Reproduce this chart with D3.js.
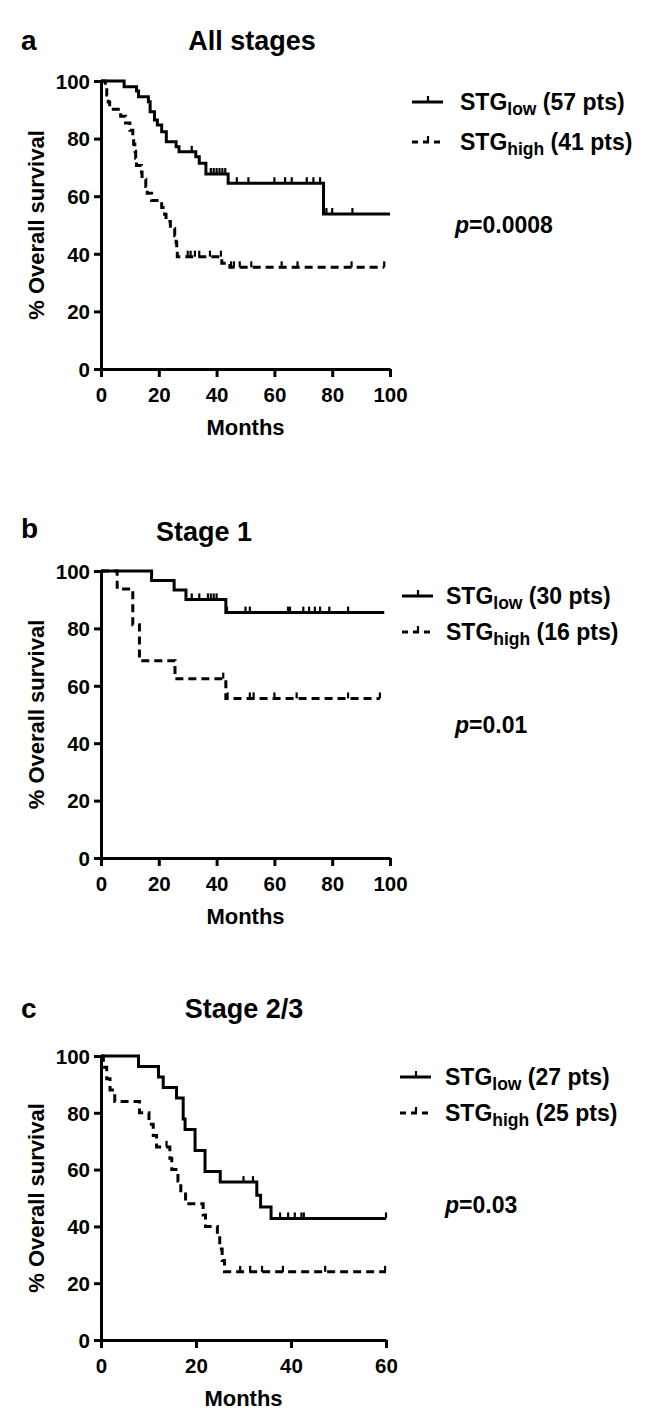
<!DOCTYPE html>
<html><head><meta charset="utf-8">
<script src="https://cdn.jsdelivr.net/npm/d3@7"></script>
<style>
body{margin:0;background:#fff}
svg{display:block}
text{font-family:"Liberation Sans",Arial,Helvetica,sans-serif;font-weight:bold;fill:#000}
</style>
</head><body>
<svg id="chart" width="646" height="1416"></svg>
<script>
// ---------- DATA ----------
const yTicks = [0, 20, 40, 60, 80, 100];
const xTicksAB = [0, 20, 40, 60, 80, 100];
const xTicksC = [0, 20, 40, 60];

// Panel a: All stages
const aLowSteps = [[0,100],[8,98.0],[12.3,96.5],[13,94.5],[16.4,92.8],[17,89.3],[18.5,86.5],[19.5,84.7],[21,82.4],[22.6,78.9],[26,77.2],[27,75.4],[32.8,73.7],[34,71.4],[36.3,67.7],[44,64.5],[77,53.8]];
const aLowCensor = [31.4,38,39,40,41,42,43,47,51,60,63.7,66,71.2,73.5,75.8,78,80,87];
const aLowEnd = 100;
const aHighSteps = [[0,100],[1.5,97.6],[2,95.1],[2.5,92.7],[3,90.2],[6.8,87.8],[8.5,85.4],[10,82.9],[11,80.5],[11.3,78],[11.7,75.6],[12,73.2],[12.3,70.7],[14,68.3],[14.2,65.9],[15.5,63.4],[16,61],[17.5,58.5],[21,56.1],[22,53.7],[22.5,51.2],[24,48.8],[25.5,46.3],[26,43.9],[26.2,41.5],[26.4,39],[41.8,36.7],[44.6,35.3]];
const aHighCensor = [30,31,32.5,34,37.7,41.5,45,46,48,52,62.5,68,86.7,98];
const aHighEnd = 98;

// Panel b: Stage 1
const bLowSteps = [[0,100],[17.5,96.7],[25.3,93.4],[29.4,90.1],[43.2,85.5]];
const bLowCensor = [31.4,34,37,38,39,40,43.6,50,51.5,64.7,65.4,70,72,74,75.8,79,85.5];
const bLowEnd = 98;
const bHighSteps = [[0,100],[5.6,93.75],[11,81.25],[13.3,68.75],[25.6,62.5],[43.2,55.6]];
const bHighCensor = [42.3,43.8,51.5,52.8,60,67.7,85.5,96.5];
const bHighEnd = 96.5;

// Panel c: Stage 2/3
const cLowSteps = [[0,100],[7.9,96.3],[12.1,92.6],[13.1,88.9],[15.9,85.2],[17.3,77.8],[17.7,74.1],[19.8,66.7],[21.9,59.3],[25.1,55.6],[32.8,51],[33.6,46.8],[35.8,42.8]];
const cLowCensor = [30,32,37.7,39.4,40.8,42.2,42.7,60];
const cLowEnd = 60;
const cHighSteps = [[0,100],[0.5,96],[1.2,92],[1.9,88],[2.9,84],[8.1,80],[10.1,76],[11,72],[11.7,68],[14.5,64],[14.9,60],[16.2,56],[16.8,52],[17.8,48],[21.5,44],[22,40],[24.5,36],[25,32],[25.5,28],[26,24]];
const cHighCensor = [13.8,29.3,31.4,33.9,38.3,47.2,59.8];
const cHighEnd = 60;

// ---------- DRAW ----------
const svg = d3.select("#chart");
const DASH = "8,5";

function survAt(steps, t){
  let s = steps[0][1];
  for (const [ti, si] of steps) { if (ti <= t) s = si; }
  return s;
}

function drawCurve(g, x, y, steps, censor, end, dashed){
  const pts = [[steps[0][0], steps[0][1]]];
  for (let i = 1; i < steps.length; i++) {
    pts.push([steps[i][0], steps[i-1][1]]);
    pts.push([steps[i][0], steps[i][1]]);
  }
  pts.push([end, steps[steps.length-1][1]]);
  const line = d3.line().x(d => x(d[0])).y(d => y(d[1]));
  g.append("path").attr("d", line(pts)).attr("fill","none").attr("stroke","#000")
    .attr("stroke-width", 3).attr("stroke-dasharray", dashed ? DASH : null)
    .attr("stroke-linejoin","miter").attr("stroke-linecap","butt");
  g.selectAll(null).data(censor).enter().append("line")
    .attr("x1", d => x(d)).attr("x2", d => x(d))
    .attr("y1", d => y(survAt(steps, d)))
    .attr("y2", d => y(survAt(steps, d)) - 6)
    .attr("stroke","#000").attr("stroke-width", 2.2);
}

function panel(cfg){
  const g = svg.append("g");
  const x = d3.scaleLinear().domain([0, cfg.xMax]).range([cfg.x0, cfg.x1]);
  const y = d3.scaleLinear().domain([0, 100]).range([cfg.yBot, cfg.yTop]);

  const xa = g.append("g").attr("transform", `translate(0,${cfg.yBot})`)
    .call(d3.axisBottom(x).tickValues(cfg.xTicks).tickSize(8).tickSizeOuter(0).tickPadding(6));
  const ya = g.append("g").attr("transform", `translate(${cfg.x0},0)`)
    .call(d3.axisLeft(y).tickValues(yTicks).tickSize(7).tickSizeOuter(0).tickPadding(4));
  [xa, ya].forEach(a => {
    a.select(".domain").attr("stroke","#000").attr("stroke-width",3);
    a.selectAll(".tick line").attr("stroke","#000").attr("stroke-width",3);
    a.selectAll(".tick text").style("font-size","20.5px").attr("fill","#000")
      .style("font-family",'"Liberation Sans",Arial,sans-serif').style("font-weight","bold");
  });
  xa.selectAll(".tick text").attr("dy","0.95em");
  ya.selectAll(".tick text").attr("dy","0.36em");

  drawCurve(g, x, y, cfg.low.steps, cfg.low.censor, cfg.low.end, false);
  drawCurve(g, x, y, cfg.high.steps, cfg.high.censor, cfg.high.end, true);

  g.append("text").attr("x", cfg.letterX).attr("y", cfg.letterY).style("font-size","28px").text(cfg.letter);
  g.append("text").attr("x", cfg.titleX).attr("y", cfg.titleY).attr("text-anchor","middle")
    .style("font-size","27px").text(cfg.title);
  g.append("text").attr("x", (cfg.x0 + cfg.x1)/2).attr("y", cfg.yBot + 66).attr("text-anchor","middle")
    .style("font-size","22px").text("Months");
  g.append("text").attr("transform", `translate(44,${(cfg.yTop+cfg.yBot)/2}) rotate(-90)`)
    .attr("text-anchor","middle").style("font-size","22px").text("% Overall survival");

  const L = cfg.legend;
  [[cfg.low, false, "low", L.y1], [cfg.high, true, "high", L.y2]].forEach(([c, dashed, sub, ly]) => {
    g.append("line").attr("x1", L.x).attr("x2", L.x + 31).attr("y1", ly).attr("y2", ly)
      .attr("stroke","#000").attr("stroke-width",3).attr("stroke-dasharray", dashed ? "6,5" : null);
    g.append("line").attr("x1", L.x + 16).attr("x2", L.x + 16).attr("y1", ly).attr("y2", ly - 6)
      .attr("stroke","#000").attr("stroke-width",2.2);
    const t = g.append("text").attr("x", L.tx).attr("y", ly + 8).style("font-size","23px");
    t.append("tspan").text("STG");
    t.append("tspan").attr("dy", 5).style("font-size","17.5px").text(sub);
    t.append("tspan").attr("dy", -5).text(` (${c.n} pts)`);
  });

  const p = g.append("text").attr("x", cfg.pX).attr("y", cfg.pY).style("font-size","23px");
  p.append("tspan").style("font-style","italic").text("p");
  p.append("tspan").text("=" + cfg.pText);
}

panel({x0:101, x1:390, yTop:81, yBot:369, xMax:100, xTicks:xTicksAB,
  low:{steps:aLowSteps, censor:aLowCensor, end:aLowEnd, n:57},
  high:{steps:aHighSteps, censor:aHighCensor, end:aHighEnd, n:41},
  letter:"a", letterX:21, letterY:50, title:"All stages", titleX:252, titleY:50,
  legend:{x:412, tx:460, y1:102, y2:142}, pX:455, pY:233, pText:"0.0008"});

panel({x0:101, x1:390, yTop:571, yBot:858, xMax:100, xTicks:xTicksAB,
  low:{steps:bLowSteps, censor:bLowCensor, end:bLowEnd, n:30},
  high:{steps:bHighSteps, censor:bHighCensor, end:bHighEnd, n:16},
  letter:"b", letterX:21, letterY:538, title:"Stage 1", titleX:204, titleY:541,
  legend:{x:402, tx:446, y1:596, y2:632}, pX:455, pY:733, pText:"0.01"});

panel({x0:101, x1:386, yTop:1056, yBot:1340, xMax:60, xTicks:xTicksC,
  low:{steps:cLowSteps, censor:cLowCensor, end:cLowEnd, n:27},
  high:{steps:cHighSteps, censor:cHighCensor, end:cHighEnd, n:25},
  letter:"c", letterX:21, letterY:1018, title:"Stage 2/3", titleX:244, titleY:1018,
  legend:{x:400, tx:445, y1:1077, y2:1113}, pX:445, pY:1213, pText:"0.03"});
</script>
</body></html>
